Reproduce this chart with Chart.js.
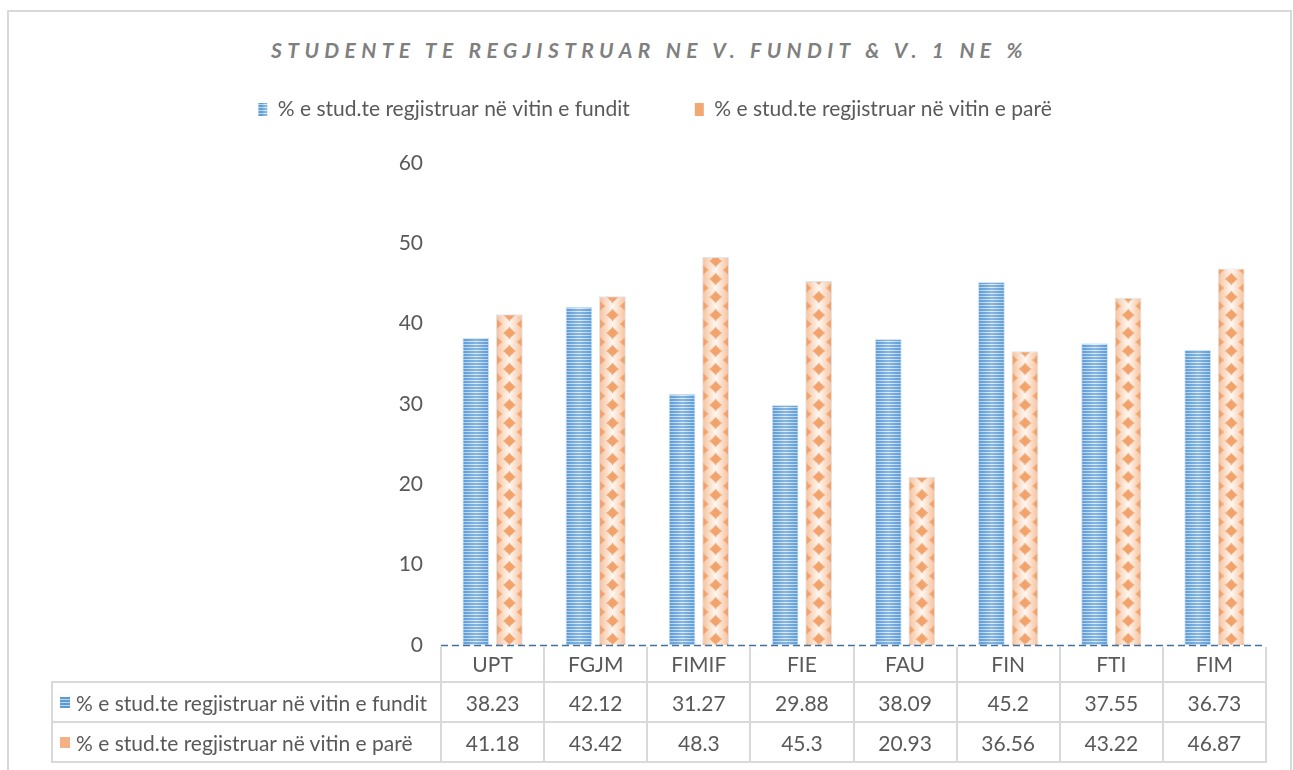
<!DOCTYPE html>
<html><head><meta charset="utf-8">
<script src="https://cdn.jsdelivr.net/npm/chart.js@4"></script>
<style>
html,body{margin:0;padding:0;background:#fff;}
#wrap{position:relative;width:1293px;height:770px;overflow:hidden;font-family:Lato, sans-serif;}
#frame{position:absolute;left:7px;top:10px;width:1285px;height:800px;border:2px solid #d9d9d9;box-sizing:border-box;}
#title{position:absolute;left:7px;width:1285px;top:37px;text-align:center;font:italic bold 21px Lato;letter-spacing:5.4px;color:#7f7f7f;white-space:nowrap;}
#c{position:absolute;left:0;top:0;}
.cell{position:absolute;box-sizing:border-box;display:flex;align-items:center;justify-content:center;color:#595959;font:21px Lato;white-space:nowrap;}
.cell.left{justify-content:flex-start;padding-left:8px;}
.ln{position:absolute;background:#d9d9d9;}
.key{display:inline-block;width:10px;height:11px;margin-right:6px;}
.key.b{background:repeating-linear-gradient(#5b9bd5 0 2px,#bdd7ee 2px 3px);}
.key.o{background:#f4b183;}
</style></head>
<body>
<div id="wrap">
  <div id="frame"></div>
  <div id="title"></div>
  <canvas id="c" width="1293" height="770"></canvas>
</div>
<script>
const chartTitle = 'STUDENTE TE REGJISTRUAR NE V. FUNDIT & V. 1 NE %';
const categories = ['UPT','FGJM','FIMIF','FIE','FAU','FIN','FTI','FIM'];
const seriesNames = ['% e stud.te regjistruar në vitin e fundit','% e stud.te regjistruar në vitin e parë'];
const lastYear = [38.23,42.12,31.27,29.88,38.09,45.2,37.55,36.73];
const firstYear = [41.18,43.42,48.3,45.3,20.93,36.56,43.22,46.87];
const yTicks = [0,10,20,30,40,50,60];

const CAT_PCT = 0.65, BAR_PCT = 0.8;
document.getElementById('title').textContent = chartTitle;

function bluePattern(ctx, w, left){
  const W = Math.max(2, Math.round(w));
  const c = document.createElement('canvas'); c.width = W; c.height = 3;
  const g = c.getContext('2d');
  const gd = g.createLinearGradient(0,0,W,0);
  gd.addColorStop(0,'#5b9bd5'); gd.addColorStop(0.5,'#86b6e3'); gd.addColorStop(1,'#5b9bd5');
  g.fillStyle = gd; g.fillRect(0,0,W,2);
  const gl = g.createLinearGradient(0,0,W,0);
  gl.addColorStop(0,'#a8c9ea'); gl.addColorStop(0.5,'#e2eef9'); gl.addColorStop(1,'#a8c9ea');
  g.fillStyle = gl; g.fillRect(0,2,W,1);
  const p = ctx.createPattern(c,'repeat');
  if (left !== undefined) p.setTransform(new DOMMatrix([1,0,0,1,left,0]));
  return p;
}
function star(g, cx, cy, r){
  const k = r*0.35;
  g.beginPath();
  g.moveTo(cx, cy-r);
  g.quadraticCurveTo(cx+k, cy-k, cx+r, cy);
  g.quadraticCurveTo(cx+k, cy+k, cx, cy+r);
  g.quadraticCurveTo(cx-k, cy+k, cx-r, cy);
  g.quadraticCurveTo(cx-k, cy-k, cx, cy-r);
  g.fill();
  g.beginPath(); g.arc(cx, cy, r*0.6, 0, Math.PI*2); g.fill();
}
function orangePattern(ctx, w, left){
  const W = Math.max(2, Math.round(w)), H = 18;
  const c = document.createElement('canvas'); c.width = W; c.height = H;
  const g = c.getContext('2d');
  const bg = g.createLinearGradient(0,0,W,0);
  bg.addColorStop(0,'#f6bf98'); bg.addColorStop(0.5,'#fff8f3'); bg.addColorStop(1,'#f6bf98');
  g.fillStyle = bg; g.fillRect(0,0,W,H);
  g.fillStyle = 'rgba(241,160,104,0.85)';
  [[0,0],[W,0],[0,H],[W,H],[W/2,H/2]].forEach(([x,y])=>star(g,x,y,6.5));
  const p = ctx.createPattern(c,'repeat');
  if (left !== undefined) p.setTransform(new DOMMatrix([1,0,0,1,left,0]));
  return p;
}
function makeFill(c, ds){
  const chart = c.chart;
  const xs = chart.scales && chart.scales.x;
  if (!xs || c.type !== 'data' || !chart.chartArea) return ds === 0 ? '#5b9bd5' : '#f4b183';
  const center = xs.getPixelForValue(c.dataIndex);
  const cat = (xs.right - xs.left) / categories.length;
  const slot = cat * CAT_PCT / 2;
  const w = slot * BAR_PCT;
  const bc = center + (ds === 0 ? -slot/2 : slot/2);
  return ds === 0 ? bluePattern(chart.ctx, w, bc - w/2) : orangePattern(chart.ctx, w, bc - w/2);
}

const legendSpacer = {
  id: 'legendSpacer',
  beforeUpdate(chart){
    if (chart.legend && !chart.legend._patched){
      const fit = chart.legend.fit;
      chart.legend.fit = function(){ fit.call(this); this.height = 129; };
      chart.legend._patched = true;
    }
  }
};
const zeroLine = {
  id: 'zeroLine',
  afterDatasetsDraw(chart){
    const {ctx, chartArea} = chart;
    const y = Math.round(chart.scales.y.getPixelForValue(0)) + 0.5;
    ctx.save();
    ctx.strokeStyle = '#41719c'; ctx.lineWidth = 1.5; ctx.setLineDash([7,4]);
    ctx.beginPath(); ctx.moveTo(chartArea.left, y); ctx.lineTo(chartArea.right, y); ctx.stroke();
    ctx.restore();
  }
};

const ctx = document.getElementById('c').getContext('2d');
const legendFills = [bluePattern(ctx, 9), '#f3a772'];
const chart = new Chart(ctx, {
  type: 'bar',
  data: {
    labels: categories,
    datasets: [
      { label: seriesNames[0], data: lastYear, backgroundColor: c => makeFill(c,0),
        borderColor: '#d3e3f3', borderWidth: 1, barPercentage: BAR_PCT, categoryPercentage: CAT_PCT },
      { label: seriesNames[1], data: firstYear, backgroundColor: c => makeFill(c,1),
        borderColor: '#dbe6f2', borderWidth: 1, barPercentage: BAR_PCT, categoryPercentage: CAT_PCT }
    ]
  },
  options: {
    responsive: false, animation: false, devicePixelRatio: 1,
    layout: { padding: { left: 44, right: 27, top: 34, bottom: 125 } },
    plugins: {
      title: { display: false },
      tooltip: { enabled: false },
      legend: {
        position: 'top',
        labels: {
          boxWidth: 9, boxHeight: 13, padding: 65, color: '#595959',
          font: { family: 'Lato', size: 21 },
          generateLabels: () => seriesNames.map((n,i)=>({
            text: n, fillStyle: legendFills[i], strokeStyle: 'rgba(0,0,0,0)', lineWidth: 0,
            hidden: false, datasetIndex: i, fontColor: '#595959'
          }))
        }
      }
    },
    scales: {
      x: {
        type: 'category', offset: true,
        grid: { display: false, drawTicks: false },
        ticks: { display: false },
        border: { display: false }
      },
      y: {
        min: yTicks[0], max: yTicks[yTicks.length-1],
        afterFit: s => { s.width = 397; },
        afterBuildTicks: s => { s.ticks = yTicks.map(v => ({ value: v })); },
        grid: { display: false },
        border: { display: false },
        ticks: { color: '#595959', font: { family: 'Lato', size: 21 }, padding: 10 }
      }
    }
  },
  plugins: [legendSpacer, zeroLine]
});

// data table under the chart, aligned to the category scale
(function buildTable(){
  const wrap = document.getElementById('wrap');
  const xs = chart.scales.x, area = chart.chartArea;
  const n = categories.length;
  const cat = (xs.right - xs.left) / n;
  const edges = categories.map((_,i)=> xs.getPixelForValue(i) - cat/2);
  edges.push(xs.getPixelForValue(n-1) + cat/2);
  const top = area.bottom, hH = 37, rH = 40, leftX = 52, lw = 2;
  const rowsTop = top + hH;
  const bottom = rowsTop + 2*rH;
  function line(x,y,w,h){ const d=document.createElement('div'); d.className='ln'; Object.assign(d.style,{left:x+'px',top:y+'px',width:w+'px',height:h+'px'}); wrap.appendChild(d); }
  function cell(x,y,w,h,html,cls){ const d=document.createElement('div'); d.className='cell'+(cls?' '+cls:''); Object.assign(d.style,{left:x+'px',top:y+'px',width:w+'px',height:h+'px'}); d.innerHTML=html; wrap.appendChild(d); }
  line(edges[0], top+hH-lw/2, edges[n]-edges[0], lw);
  line(leftX, rowsTop-lw/2, edges[n]-leftX, lw);
  line(leftX, rowsTop+rH-lw/2, edges[n]-leftX, lw);
  line(leftX, bottom-lw/2, edges[n]-leftX+lw/2, lw);
  line(leftX-lw/2, rowsTop-lw/2, lw, 2*rH+lw);
  edges.forEach(x => line(x-lw/2, top+2, lw, bottom-top-1));
  categories.forEach((c,i)=> cell(edges[i], top, edges[i+1]-edges[i], hH, c));
  const rows = [lastYear, firstYear];
  rows.forEach((vals, r)=>{
    const y = rowsTop + r*rH;
    cell(leftX, y, edges[0]-leftX, rH, '<span class="key '+(r===0?'b':'o')+'"></span>'+seriesNames[r], 'left');
    vals.forEach((v,i)=> cell(edges[i], y, edges[i+1]-edges[i], rH, String(v)));
  });
})();
</script>
</body></html>
